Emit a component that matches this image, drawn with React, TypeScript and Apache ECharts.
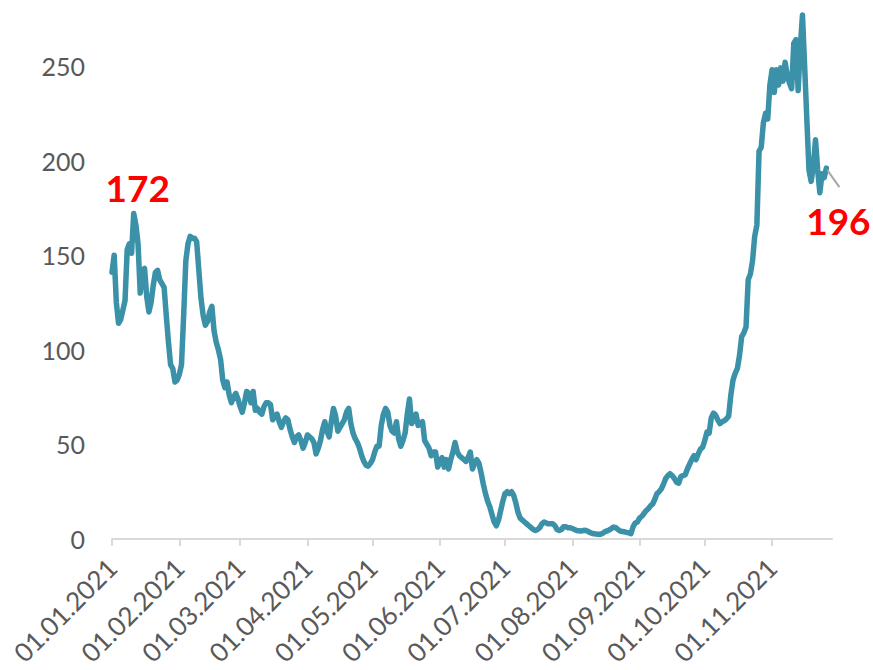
import React, { useEffect, useRef } from "react";
import * as echarts from "echarts";

const startDate = "2021-01-01";
const dailyValues: number[] = [
  // Jan
  141, 150, 125, 114, 116, 121, 126, 153, 156, 151, 172, 166, 156, 130, 142, 143, 128, 120, 125, 134,
  141, 142, 137, 135, 133, 118, 104, 92, 90, 83, 84,
  // Feb
  87, 92, 118, 147, 156, 160, 159, 159, 157, 142, 127, 118, 113, 115, 120, 123, 110, 104, 100, 95,
  84, 80, 83, 76, 72, 75, 77, 74,
  // Mar
  70, 67, 72, 78, 77, 72, 78, 68, 69, 67, 66, 70, 72, 72, 71, 63, 65, 66, 62, 59,
  62, 64, 63, 58, 54, 51, 54, 55, 52, 48, 51,
  // Apr
  55, 54, 53, 51, 45, 48, 52, 58, 62, 57, 54, 62, 69, 65, 57, 59, 61, 63, 67, 69,
  61, 56, 53, 51, 48, 44, 41, 39, 38.5, 40,
  // May
  42, 46, 49, 49, 60, 66, 69, 67, 60, 57, 56, 62, 53, 49, 52, 56, 66, 74, 61, 63,
  66, 60, 61, 62, 52, 50, 48, 44, 46, 46, 38,
  // Jun
  41, 43, 38, 42, 37, 42, 46, 51, 46, 44, 43, 42, 41, 43, 46, 37, 40, 42, 40, 35,
  29, 24, 20, 17, 13, 9, 7, 10, 15, 20,
  // Jul
  24, 25, 24, 25, 23, 19, 14, 11, 10, 9, 8, 7, 6, 5, 4.5, 5, 6, 8, 9, 8.5,
  8, 8, 8, 7, 5, 4.5, 5, 6.5, 6.5, 6, 6,
  // Aug
  5.5, 5, 4.5, 4.3, 4.2, 4.5, 4.6, 4.2, 3.5, 3, 2.8, 2.6, 2.5, 2.5, 3, 3.8, 4.3, 4.8, 5.5, 6.3,
  6, 5, 4.2, 4, 3.8, 3.5, 3.2, 2.8, 6.5, 8.5, 9,
  // Sep
  11, 12, 13.5, 15, 16, 17.5, 18.5, 21, 24, 25, 26.5, 29, 32, 33.5, 34.5, 33.5, 32, 30, 29.5, 33,
  33.5, 34, 37, 39.5, 42, 44, 42, 45, 47.5, 48.5,
  // Oct
  52, 56.5, 56, 64, 66.5, 65.5, 63, 61, 62, 62.5, 63.5, 65, 76, 84, 87.5, 90, 97, 107, 109, 112,
  137, 140, 147, 160, 166, 205, 207, 220, 225, 222, 240,
  // Nov
  248, 236, 248, 240, 249, 242, 252, 245, 241, 238, 262, 264, 237, 260, 277, 250, 222, 195, 189, 197,
  211, 195, 183, 193, 191, 196,
];

const yTicks = [0, 50, 100, 150, 200, 250];
const monthLabels = [
  "01.01.2021", "01.02.2021", "01.03.2021", "01.04.2021", "01.05.2021", "01.06.2021",
  "01.07.2021", "01.08.2021", "01.09.2021", "01.10.2021", "01.11.2021",
];
const axisEndDate = "2021-11-28";
const peakAnnotation = { date: "2021-01-11", value: 172 };
const lastAnnotation = { date: "2021-11-26", value: 196 };

const DAY = 86400000;
const t0 = Date.parse(startDate + "T00:00:00Z");
const dayOf = (iso: string) => Math.round((Date.parse(iso + "T00:00:00Z") - t0) / DAY);
const labelDay = (lbl: string) => {
  const [d, m, y] = lbl.split(".");
  return dayOf(`${y}-${m}-${d}`);
};

export default function App() {
  const ref = useRef<HTMLDivElement>(null);
  useEffect(() => {
    document.body.style.margin = "0";
    if (!ref.current) return;
    const chart = echarts.init(ref.current, undefined, { renderer: "svg" });
    const seriesData = dailyValues.map((v, i) => [i, v]);
    const monthDays = monthLabels.map(labelDay);
    const dayToLabel: Record<number, string> = {};
    monthLabels.forEach((l) => (dayToLabel[labelDay(l)] = l));
    const font = "Lato, 'Open Sans', sans-serif";

    chart.setOption({
      animation: false,
      backgroundColor: "#ffffff",
      grid: { left: 112, right: 41, top: 66, bottom: 131, containLabel: false },
      xAxis: {
        type: "value",
        min: 0,
        max: dayOf(axisEndDate) + 0.6,
        splitLine: { show: false },
        axisLine: { show: true, lineStyle: { color: "#d9d9d9", width: 2 } },
        axisTick: {
          show: true,
          customValues: monthDays,
          length: 7,
          lineStyle: { color: "#d9d9d9", width: 2 },
        },
        axisLabel: {
          customValues: monthDays,
          formatter: (v: number) => dayToLabel[Math.round(v)] ?? "",
          rotate: 45,
          margin: 24,
          color: "#595959",
          fontSize: 26,
          fontFamily: font,
        },
      },
      yAxis: {
        type: "value",
        min: 0,
        max: 250,
        interval: 50,
        splitLine: { show: false },
        axisLine: { show: false },
        axisTick: { show: false },
        axisLabel: {
          customValues: yTicks,
          color: "#595959",
          fontSize: 25,
          fontFamily: font,
          margin: 27,
        },
      },
      series: [
        {
          type: "line",
          data: seriesData,
          showSymbol: false,
          symbol: "none",
          clip: false,
          lineStyle: { color: "#3A91A8", width: 5.5, join: "round", cap: "round" },
          itemStyle: { color: "#3A91A8" },
          markPoint: {
            symbol: "circle",
            symbolSize: 0,
            silent: true,
            label: {
              show: true,
              position: "inside",
              color: "#ff0000",
              fontWeight: "bold",
              fontSize: 37,
              fontFamily: font,
            },
            data: [
              {
                coord: [dayOf(peakAnnotation.date), peakAnnotation.value],
                value: peakAnnotation.value,
                label: { offset: [4, -26] },
              },
              {
                coord: [dayOf(lastAnnotation.date), lastAnnotation.value],
                value: lastAnnotation.value,
                label: { offset: [12, 52] },
              },
            ],
          },
        },
      ],
    });

    const p = chart.convertToPixel({ gridIndex: 0 }, [
      dayOf(lastAnnotation.date),
      lastAnnotation.value,
    ]) as number[];
    chart.setOption({
      graphic: [
        {
          type: "line",
          shape: { x1: p[0] + 1, y1: p[1] + 2, x2: p[0] + 13, y2: p[1] + 19 },
          style: { stroke: "#a6a6a6", lineWidth: 2 },
          z: 10,
        },
      ],
    });

    return () => chart.dispose();
  }, []);
  return <div ref={ref} style={{ width: 873, height: 670 }} />;
}
